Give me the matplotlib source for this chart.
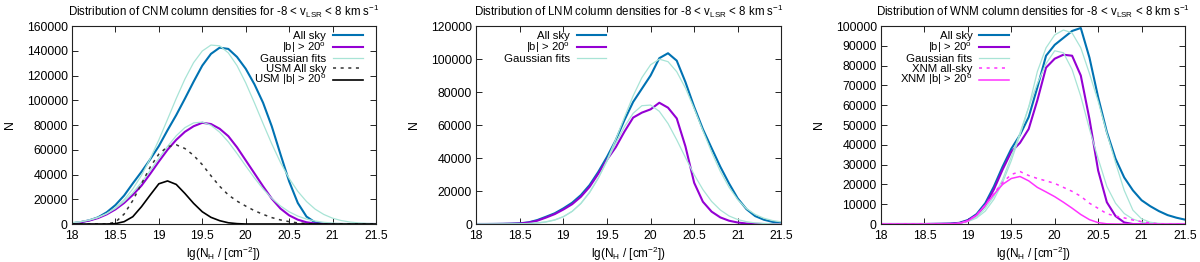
import numpy as np
import matplotlib
matplotlib.use('Agg')
import matplotlib.pyplot as plt
from matplotlib.ticker import FormatStrFormatter, MultipleLocator

plt.rcParams['font.family'] = ['Liberation Sans', 'DejaVu Sans']
plt.rcParams['mathtext.fontset'] = 'custom'
plt.rcParams['mathtext.rm'] = 'Liberation Sans'
plt.rcParams['mathtext.it'] = 'Liberation Sans:italic'
plt.rcParams['mathtext.default'] = 'regular'

# lg(N_H) sample points, 18.0 ... 21.5 in steps of 0.1
nh = np.round(np.arange(18.0, 21.55, 0.1), 1)

# CNM panel
cnm_all = [500, 1500, 3000, 5400, 9500, 15300, 23000, 32800, 42200, 52200,
           63000, 75800, 88000, 101300, 115000, 128000, 137500, 142500, 141500, 135000,
           125500, 113000, 98000, 79000, 56500, 34500, 17000, 6000, 1300, 150,
           0, 0, 0, 0, 0, 0]
cnm_b = [500, 1500, 2800, 4800, 7800, 11800, 17000, 23500, 31000, 40500,
         50500, 60000, 68000, 74500, 79000, 81800, 80800, 77000, 71000, 62000,
         51500, 41000, 30500, 20500, 12500, 7000, 3500, 1400, 400, 100,
         0, 0, 0, 0, 0, 0]
cnm_fit_all = [1000, 1810, 3140, 5250, 8450, 13100, 19600, 28300, 39300, 52700,
               68000, 84600, 101400, 117100, 130400, 139800, 144600, 144000, 138300, 128000,
               114100, 98000, 81200, 64800, 49800, 36900, 26400, 18200, 12000, 7700,
               4700, 2800, 1600, 890, 470, 240]
cnm_fit_b = [1100, 1930, 3280, 5340, 8350, 12600, 18150, 25200, 33600, 43100,
             53000, 62700, 71300, 77900, 81700, 82350, 79800, 74200, 66400, 57000,
             47000, 37300, 28400, 20800, 14600, 9900, 6400, 4000, 2400, 1380,
             760, 400, 210, 100, 50, 20]
usm_all = [0, 0, 0, 0, 0, 1500, 8000, 19000, 32500, 46000,
           56500, 62500, 64000, 61000, 55500, 48000, 39000, 30500, 23500, 18500,
           14500, 10800, 7800, 5200, 3300, 1900, 900, 300, 0, 0,
           0, 0, 0, 0, 0, 0]
usm_b = [0, 0, 0, 0, 0, 300, 1900, 5900, 14000, 23400,
         32500, 34800, 32000, 24700, 16700, 9900, 5400, 2700, 1000, 300,
         0, 0, 0, 0, 0, 0, 0, 0, 0, 0,
         0, 0, 0, 0, 0, 0]

# LNM panel
lnm_all = [0, 0, 50, 100, 200, 400, 1000, 2400, 4400, 6500,
           9500, 12900, 17500, 23600, 31600, 40700, 50800, 63000, 74000, 82000,
           90000, 100500, 103500, 99000, 86000, 71000, 57500, 46000, 34700, 24600,
           15500, 9000, 4800, 2600, 1300, 700]
lnm_b = [0, 0, 0, 50, 150, 300, 900, 2000, 3900, 6000,
         8800, 12000, 16500, 22500, 30500, 39000, 46500, 56000, 64500, 67500,
         69500, 73500, 70500, 64000, 47000, 25000, 13500, 7500, 4000, 2000,
         900, 300, 100, 0, 0, 0]
lnm_fit_all = [0, 0, 0, 30, 70, 150, 330, 690, 1360, 2530,
               4500, 7660, 12400, 19000, 27800, 38700, 51300, 64700, 77700, 88700,
               96500, 99900, 98400, 92300, 82400, 70000, 56600, 43600, 31900, 22300,
               14800, 9300, 5800, 3500, 2100, 1300]
lnm_fit_b = [0, 0, 0, 20, 50, 110, 260, 580, 1210, 2380,
             4400, 7660, 12500, 19300, 27900, 38100, 48900, 59000, 67100, 71700,
             72100, 68300, 60900, 51000, 40300, 29900, 20900, 13700, 8500, 4900,
             2700, 1400, 680, 310, 130, 50]

# WNM panel
wnm_all = [0, 0, 0, 0, 0, 0, 50, 100, 200, 600,
           2000, 5000, 10500, 19000, 29000, 38000, 45000, 54000, 69000, 85000,
           90500, 94000, 97500, 99000, 84000, 64000, 46500, 33000, 23500, 17000,
           12000, 9000, 6500, 4500, 3200, 2200]
wnm_b = [0, 0, 0, 0, 0, 0, 50, 100, 150, 400,
         1800, 4500, 9500, 17500, 27500, 36500, 41000, 48000, 62500, 79000,
         83500, 85500, 85000, 75000, 53000, 27000, 11000, 4000, 800, 0,
         0, 0, 0, 0, 0, 0]
wnm_fit_all = [0, 0, 0, 0, 0, 0, 0, 0, 0, 300,
               1200, 3000, 6500, 12500, 21000, 32000, 45000, 59000, 77000, 89000,
               95500, 98000, 96500, 89000, 76000, 62000, 46000, 31000, 17000, 7000,
               2600, 900, 300, 100, 0, 0]
wnm_fit_b = [0, 0, 0, 0, 0, 0, 0, 0, 0, 400,
             1500, 3500, 7900, 14000, 22500, 34000, 46000, 59000, 71000, 81000,
             87500, 86500, 78000, 64500, 48000, 33000, 19000, 10500, 5300, 2500,
             1000, 400, 100, 0, 0, 0]
xnm_all = [0, 0, 0, 0, 0, 0, 0, 50, 100, 300,
           1500, 4500, 9500, 15500, 21000, 25000, 26500, 24500, 23000, 21800,
           20500, 18500, 16500, 14000, 10500, 7900, 5200, 4000, 3100, 2000,
           1200, 500, 100, 0, 0, 0]
xnm_b = [0, 0, 0, 0, 0, 0, 0, 50, 100, 300,
         1500, 4500, 9500, 15000, 20000, 23000, 24000, 21800, 18500, 16200,
         13800, 11000, 8000, 4800, 2200, 700, 100, 0, 0, 0,
         0, 0, 0, 0, 0, 0]

BLUE = '#0072b2'
PURPLE = '#9400d3'
FIT = '#a8e4d6'
MAGENTA = '#ff33ff'

fig = plt.figure(figsize=(12, 2.62), dpi=100)
rects = [[0.060, 0.145, 0.2533, 0.7557],
         [0.3969, 0.145, 0.2542, 0.7557],
         [0.7342, 0.145, 0.2533, 0.7557]]
axes = [fig.add_axes(r) for r in rects]


def style(ax, name, ymax, ystep, leg_x):
    ax.set_xlim(18, 21.5)
    ax.set_ylim(0, ymax)
    ax.xaxis.set_major_locator(MultipleLocator(0.5))
    ax.yaxis.set_major_locator(MultipleLocator(ystep))
    ax.xaxis.set_major_formatter(FormatStrFormatter('%g'))
    ax.yaxis.set_major_formatter(FormatStrFormatter('%d'))
    ax.tick_params(direction='in', top=True, right=True, length=4, width=0.6,
                   labelsize=8.8, colors='black')
    ax.tick_params(axis='x', pad=4.5)
    ax.tick_params(axis='y', pad=3)
    for s in ax.spines.values():
        s.set_linewidth(0.8)
        s.set_color('#222222')
    ax.set_title('Distribution of %s column densities for -8 < v$_{LSR}$ < 8 km s$^{-1}$' % name,
                 fontsize=8.3, pad=7)
    ax.set_xlabel('lg(N$_H$ / [cm$^{-2}$])', fontsize=8.5, labelpad=2)
    ax.set_ylabel('N', fontsize=8.8, labelpad=8)
    ax.legend(loc='upper right', bbox_to_anchor=(leg_x, 0.975), frameon=False,
              markerfirst=False, fontsize=8.2, handlelength=2.6, handletextpad=0.6,
              labelspacing=-0.05, borderpad=0, borderaxespad=0)


# CNM
ax = axes[0]
ax.plot(nh, cnm_all, color=BLUE, lw=1.5, label='All sky')
ax.plot(nh, cnm_b, color=PURPLE, lw=1.5, label='|b| > 20$^o$')
ax.plot(nh, cnm_fit_all, color=FIT, lw=0.9, label='Gaussian fits')
ax.plot(nh, cnm_fit_b, color=FIT, lw=0.9)
ax.plot(nh, usm_all, color='#333333', lw=1.1, ls=(0, (2, 3)), label='USM All sky')
ax.plot(nh, usm_b, color='black', lw=1.2, label='USM |b| > 20$^o$')
style(ax, 'CNM', 160000, 20000, 0.956)

# LNM
ax = axes[1]
ax.plot(nh, lnm_all, color=BLUE, lw=1.5, label='All sky')
ax.plot(nh, lnm_b, color=PURPLE, lw=1.5, label='|b| > 20$^o$')
ax.plot(nh, lnm_fit_all, color=FIT, lw=0.9, label='Gaussian fits')
ax.plot(nh, lnm_fit_b, color=FIT, lw=0.9)
style(ax, 'LNM', 120000, 20000, 0.426)

# WNM
ax = axes[2]
ax.plot(nh, wnm_all, color=BLUE, lw=1.5, label='All sky')
ax.plot(nh, wnm_b, color=PURPLE, lw=1.5, label='|b| > 20$^o$')
ax.plot(nh, wnm_fit_all, color=FIT, lw=0.9, label='Gaussian fits')
ax.plot(nh, wnm_fit_b, color=FIT, lw=0.9)
ax.plot(nh, xnm_all, color=MAGENTA, lw=1.1, ls=(0, (2, 3)), label='XNM all-sky')
ax.plot(nh, xnm_b, color=MAGENTA, lw=1.1, label='XNM |b| > 20$^o$')
style(ax, 'WNM', 100000, 10000, 0.421)

fig.savefig('out.png', dpi=100)
